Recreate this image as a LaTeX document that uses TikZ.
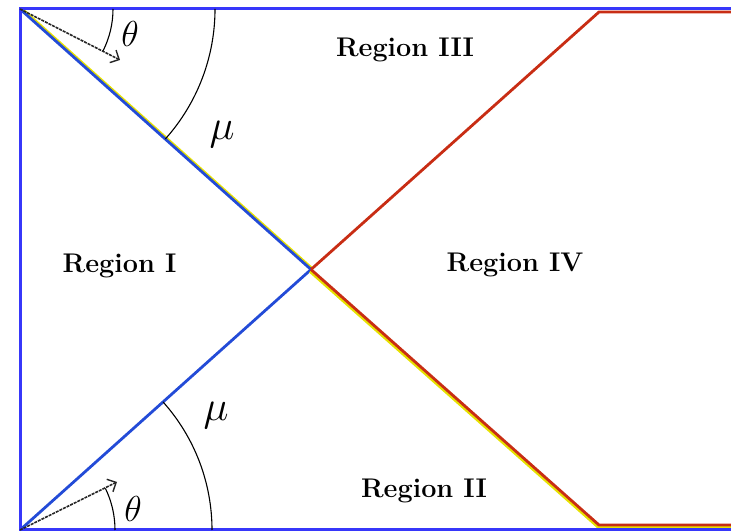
\documentclass[tikz,border=0pt]{standalone}
\usepackage{amsmath}
\usepackage{tikz}
\usetikzlibrary{calc, arrows.meta}
\definecolor{chframe}{RGB}{55,55,250}
\definecolor{chblue}{RGB}{35,75,215}
\definecolor{chred}{RGB}{200,45,20}
\definecolor{chyellow}{RGB}{230,225,0}
\tikzset{
  >={Straight Barb[length=7pt, line width=1.4pt]},
  ch frame/.style={draw=chframe, line width=3pt},
  ch blue/.style={draw=chblue, line width=2.8pt},
  ch red/.style={draw=chred, line width=2.8pt},
  ch fringe/.style={draw=chyellow, line width=2.8pt},
  ch arc/.style={draw=black, line width=1.1pt},
  ch arrow/.style={draw=black!85, ->, line width=1.6pt, dash pattern=on 3pt off 1pt},
  ch region/.style={font=\fontsize{27}{31}\selectfont\bfseries, inner sep=0pt, anchor=base},
  ch angle/.style={inner sep=0pt, font=\Huge},
}
\begin{document}
\begin{tikzpicture}[x=1pt, y=1pt]
 \useasboundingbox (0,0) rectangle (731,532);
 \coordinate (tl) at (20,523);
 \coordinate (bl) at (20,2);
 \coordinate (tre) at (731,523);
 \coordinate (bre) at (731,2);
 \coordinate (c) at (311,262.5);
 \coordinate (tr) at (599,520);
 \coordinate (tredge) at (731,520);
 \coordinate (br) at (599,7);
 \coordinate (bredge) at (731,7);
 % characteristic lines, yellow fringe first
 \draw[ch fringe] ([shift={(1pt,1pt)}]tl) -- ([shift={(1pt,1pt)}]c);
 \draw[ch blue] (tl) -- (c);
 \draw[ch blue] (bl) -- (c);
 \draw[ch red] (c) -- (tr) -- (tredge);
 \draw[ch fringe] ([shift={(-1pt,-2pt)}]c) -- ([shift={(-1pt,-2pt)}]br) -- ([shift={(0pt,-2pt)}]bredge);
 \draw[ch red] (c) -- (br) -- (bredge);
 \draw[ch frame] (tre) -- (tl) -- (bl) -- (bre);
 % angle marks
 \draw[ch arc] ($(tl)+(93,0)$) arc[start angle=0, end angle=-27, radius=93pt];
 \draw[ch arc] ($(tl)+(195,0)$) arc[start angle=0, end angle=-41.8, radius=195pt];
 \draw[ch arc] ($(bl)+(95,0)$) arc[start angle=0, end angle=26, radius=95pt];
 \draw[ch arc] ($(bl)+(192,0)$) arc[start angle=0, end angle=41.8, radius=192pt];
 \coordinate (atop) at (120,472);
 \coordinate (abot) at (117,50);
 \draw[ch arrow] (tl) -- (atop);
 \draw[ch arrow] (bl) -- (abot);
 \node[ch angle] (thtop) at (130,498) {\scalebox{1.45}{$\theta$}};
 \node[ch angle] (mutop) at (222,397) {\scalebox{1.7}{$\mu$}};
 \node[ch angle] (thbot) at (133,23) {\scalebox{1.45}{$\theta$}};
 \node[ch angle] (mubot) at (216,116) {\scalebox{1.7}{$\mu$}};
 % regions
 \node[ch region] (rI) at (119.5,259) {Region I};
 \node[ch region] (rII) at (424,34) {Region II};
 \node[ch region] (rIII) at (405,475) {Region III};
 \node[ch region] (rIV) at (515,260) {Region IV};
\end{tikzpicture}
\end{document}
